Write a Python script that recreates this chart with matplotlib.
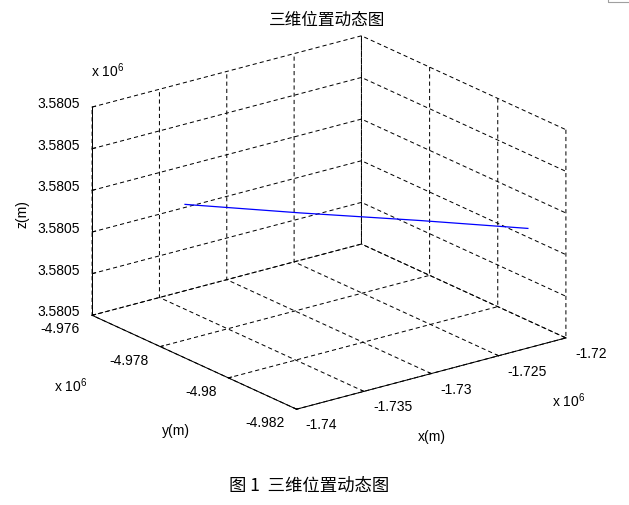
import numpy as np
import matplotlib
matplotlib.use('Agg')
import matplotlib.pyplot as plt
from matplotlib.patches import Rectangle
from matplotlib.transforms import offset_copy
from mpl_toolkits.mplot3d import proj3d

# 轨迹点 (m)
pos_x = [-1736034, -1731492, -1726622, -1722348]
pos_y = [-4977160, -4978738, -4980334, -4981812]
pos_z = [3580533.8, 3580533.8, 3580533.8, 3580533.8]

x_ticks = [-1.74e6, -1.735e6, -1.73e6, -1.725e6, -1.72e6]
x_labels = ['-1.74', '-1.735', '-1.73', '-1.725', '-1.72']
y_ticks = [-4.982e6, -4.98e6, -4.978e6, -4.976e6]
y_labels = ['-4.982', '-4.98', '-4.978', '-4.976']
z_ticks = [3580520, 3580525, 3580530, 3580535, 3580540, 3580545]
z_labels = ['3.5805'] * 6

plt.rcParams['font.family'] = ['Liberation Sans', 'Noto Sans CJK SC', 'DejaVu Sans']
plt.rcParams['mathtext.default'] = 'regular'
plt.rcParams['lines.scale_dashes'] = False

W, H = 629, 506
fig = plt.figure(figsize=(W / 100, H / 100), dpi=100)
ax = fig.add_axes([0.1, 0.1, 0.8, 0.8], projection='3d', proj_type='ortho')
ax.view_init(elev=20.4, azim=-127.2)
ax.set_box_aspect((1, 1, 0.657))

ax.plot(pos_x, pos_y, pos_z, color='#0000ff', lw=0.9)

ax.set_xlim(x_ticks[0], x_ticks[-1])
ax.set_ylim(y_ticks[0], y_ticks[-1])
ax.set_zlim(z_ticks[0], z_ticks[-1])
ax.set_xticks(x_ticks)
ax.set_yticks(y_ticks)
ax.set_zticks(z_ticks)
ax.xaxis.set_ticklabels([])
ax.yaxis.set_ticklabels([])
ax.zaxis.set_ticklabels([])

for a in (ax.xaxis, ax.yaxis, ax.zaxis):
    a.set_pane_color((1, 1, 1, 0))
    a.line.set_color('k')
    a.line.set_linewidth(0.72)
    a._axinfo['grid'].update(color='k', linewidth=0.72, linestyle=(0, (3, 2.2)))
    a._axinfo['tick']['inward_factor'] = 0.0
    a._axinfo['tick']['outward_factor'] = 0.15
    a._axinfo['tick']['linewidth'] = {True: 0.72, False: 0.5}

# 调整坐标框位置, 使立方体落在目标像素上
fig.canvas.draw()
M = ax.get_proj()


def to_px(x, y, z):
    xs, ys, _ = proj3d.proj_transform(x, y, z, M)
    px, py = ax.transData.transform((xs, ys))
    return px, H - py


Lp = to_px(x_ticks[0], y_ticks[-1], z_ticks[0])
Rp = to_px(x_ticks[-1], y_ticks[0], z_ticks[0])
Tp = to_px(x_ticks[0], y_ticks[-1], z_ticks[-1])
Fp = to_px(x_ticks[0], y_ticks[0], z_ticks[0])
Cp = to_px(np.mean(x_ticks[::4]), np.mean(y_ticks[::3]), np.mean(z_ticks[::5]))
scale = 0.5 * (474 / (Rp[0] - Lp[0]) + 302 / (Fp[1] - Tp[1]))
bb = ax.get_position()
S = bb.width * W * scale
acx, acy = (bb.x0 + bb.width / 2) * W, H - (bb.y0 + bb.height / 2) * H
dx, dy = (Cp[0] - acx) * scale, (Cp[1] - acy) * scale
cx, cy = 329 - dx, 223.5 - dy
ax.set_position([(cx - S / 2) / W, (H - cy - S / 2) / H, S / W, S / H])


# 刻度标签 (MATLAB 风格对齐)
def tick_text(x, y, z, s, ox, oy, ha, va):
    tr = offset_copy(ax.transData, fig=fig, x=ox, y=-oy, units='dots')
    ax.text(x, y, z, s, fontsize=10, ha=ha, va=va, transform=tr)


for xt, s in zip(x_ticks, x_labels):
    tick_text(xt, y_ticks[0], z_ticks[0], s, 9, 8, 'left', 'top')
for yt, s in zip(y_ticks, y_labels):
    tick_text(x_ticks[0], yt, z_ticks[0], s, -12, 6, 'right', 'top')
for zt, s in zip(z_ticks, z_labels):
    tick_text(x_ticks[0], y_ticks[-1], zt, s, -12, -4, 'right', 'center')

# 文字
fig.text(327 / W, 1 - 20 / H, '三维位置动态图', fontsize=12, ha='center', va='center',
         family=['Noto Sans CJK SC'])
fig.text(309 / W, 1 - 486 / H, '图 1  三维位置动态图', fontsize=12.5, ha='center', va='center',
         family=['Noto Sans CJK SC'])
fig.text(22 / W, 1 - 214 / H, 'z(m)', fontsize=10, rotation=90, ha='center', va='center')
fig.text(176 / W, 1 - 431 / H, 'y(m)', fontsize=10, ha='center', va='center')
fig.text(432 / W, 1 - 437 / H, 'x(m)', fontsize=10, ha='center', va='center')
fig.text(91 / W, 1 - 71 / H, 'x 10$^{6}$', fontsize=10, ha='left', va='center')
fig.text(54 / W, 1 - 386 / H, 'x 10$^{6}$', fontsize=10, ha='left', va='center')
fig.text(552 / W, 1 - 401 / H, 'x 10$^{6}$', fontsize=10, ha='left', va='center')

fig.add_artist(Rectangle((608 / W, 1 - 2.5 / H), 30 / W, 10 / H, transform=fig.transFigure,
                         fill=False, ec='#a0a0a0', lw=0.8))

fig.savefig('out.png', dpi=100)
